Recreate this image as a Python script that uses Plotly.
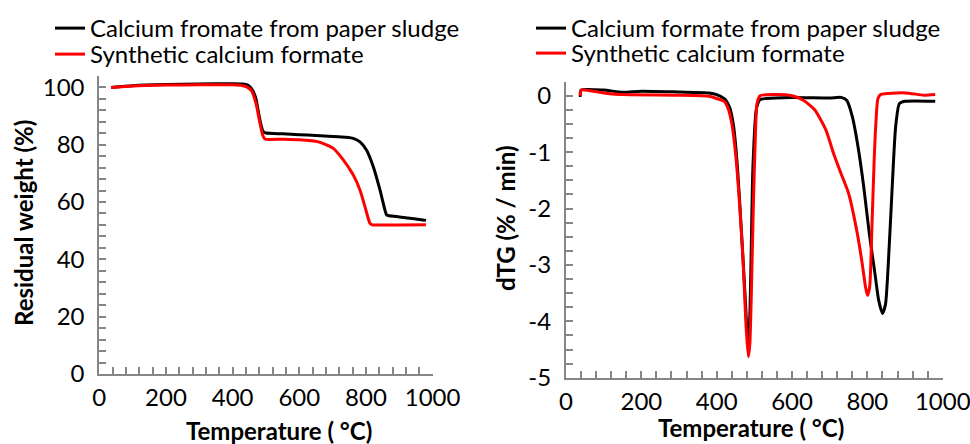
import plotly.graph_objects as go

# ---------------- data ----------------
# TGA (left)
tga_black_T = [35, 100, 200, 300, 400, 430, 445, 455, 462, 470, 478, 485, 490, 495, 500, 550, 600, 650, 700, 740,
               762, 782, 802, 822, 842, 857, 862, 870, 900, 950, 980]
tga_black_W = [100.0, 100.6, 101.0, 101.2, 101.3, 101.2, 100.8, 99.8, 98.5, 96.0, 91.0, 87.0, 85.0, 84.3, 84.1, 83.8,
               83.5, 83.2, 82.9, 82.6, 82.2, 81.0, 78.1, 72.3, 64.2, 57.2, 55.5, 55.2, 54.8, 54.1, 53.6]
tga_red_T = [35, 100, 200, 300, 400, 430, 442, 457, 470, 480, 490, 497, 550, 600, 657, 680, 702, 732, 762, 782, 797,
             812, 820, 850, 900, 980]
tga_red_W = [100.0, 100.5, 100.8, 100.9, 100.9, 100.6, 100.2, 98.8, 94.4, 88.6, 83.4, 82.0, 81.9, 81.7, 81.0, 80.0,
             78.7, 74.7, 69.4, 64.2, 58.4, 52.6, 52.0, 52.0, 52.0, 52.1]

# DTG (right)
dtg_black_T = [38, 40, 100, 150, 200, 300, 380, 400, 420, 435, 445, 455, 465, 475, 480, 484, 488, 492, 496, 505, 515,
               530, 600, 700, 730, 745, 760, 775, 790, 805, 820, 830, 840, 848, 855, 865, 875, 885, 900, 980]
dtg_black_V = [-0.02, 0.1, 0.1, 0.06, 0.08, 0.065, 0.05, 0.02, -0.05, -0.22, -0.55, -1.26, -2.33, -3.5, -4.1, -4.35,
               -3.9, -2.6, -1.3, -0.25, -0.07, -0.05, -0.03, -0.04, -0.03, -0.08, -0.37, -0.9, -1.6, -2.44, -3.15,
               -3.63, -3.86, -3.7, -3.04, -1.73, -0.55, -0.14, -0.1, -0.1]
dtg_red_T = [38, 40, 100, 150, 300, 380, 400, 420, 430, 440, 450, 460, 470, 478, 484, 488, 492, 497, 502, 507, 515,
             550, 600, 630, 660, 690, 710, 730, 750, 770, 785, 795, 800, 806, 812, 818, 822, 828, 835, 900, 950, 980]
dtg_red_V = [0.0, 0.1, 0.05, 0.02, 0.01, -0.01, -0.05, -0.1, -0.22, -0.49, -1.02, -1.85, -2.92, -4.1, -4.63, -4.4,
             -3.5, -2.03, -0.85, -0.14, 0.0, 0.02, 0.0, -0.08, -0.25, -0.61, -1.02, -1.38, -1.73, -2.33, -2.92, -3.39,
             -3.54, -3.39, -2.33, -1.14, -0.55, -0.05, 0.02, 0.05, 0.01, 0.02]

# tick labels
x_ticks = [0, 200, 400, 600, 800, 1000]
tga_ticks = [0, 20, 40, 60, 80, 100]
dtg_ticks = [0, -1, -2, -3, -4, -5]
dtg_ticktext = ["0", "-1", "-2", "-3", "-4", "-5"]

name_left_1 = "Calcium fromate from paper sludge"
name_right_1 = "Calcium formate from paper sludge"
name_2 = "Synthetic calcium formate"

FONT = "Lato"
AX = "#868686"
FS = 24
W, H = 970, 444

fig = go.Figure()
line_kw = dict(width=3, shape="spline", smoothing=0.6)
fig.add_trace(go.Scatter(x=tga_black_T, y=tga_black_W, mode="lines", name=name_left_1,
                         line=dict(color="black", **line_kw), xaxis="x", yaxis="y", legend="legend"))
fig.add_trace(go.Scatter(x=tga_red_T, y=tga_red_W, mode="lines", name=name_2,
                         line=dict(color="red", **line_kw), xaxis="x", yaxis="y", legend="legend2"))
fig.add_trace(go.Scatter(x=dtg_black_T, y=dtg_black_V, mode="lines", name=name_right_1,
                         line=dict(color="black", **line_kw), xaxis="x2", yaxis="y2", legend="legend3"))
fig.add_trace(go.Scatter(x=dtg_red_T, y=dtg_red_V, mode="lines", name=name_2,
                         line=dict(color="red", **line_kw), xaxis="x2", yaxis="y2", legend="legend4"))

tickfont = dict(family=FONT, size=FS, color="black")
minor = dict(ticks="inside", ticklen=7, tickcolor=AX, tickwidth=1.5)
common = dict(showline=True, linecolor=AX, linewidth=2, ticks="inside", ticklen=7, tickcolor=AX, tickwidth=1.5,
              showgrid=False, zeroline=False, tickfont=tickfont, ticklabeloverflow="allow")


def leg(xpx, ypx):
    return dict(x=xpx / W, y=1 - ypx / H, xanchor="left", yanchor="top", bgcolor="rgba(0,0,0,0)",
                font=dict(family=FONT, size=FS, color="black"), itemwidth=30)


fig.update_layout(
    width=W, height=H,
    margin=dict(l=0, r=0, t=0, b=0, autoexpand=False),
    plot_bgcolor="white", paper_bgcolor="white",
    font=dict(family=FONT, size=FS, color="black"),
    xaxis=dict(domain=[0.1024, 0.446], range=[0, 1000], tickvals=x_ticks, anchor="y", ticklabelstandoff=1,
               minor=dict(dtick=40, **minor), **common),
    yaxis=dict(domain=[0.1577, 0.829], range=[0, 104], tickvals=tga_ticks, anchor="x", ticklabelstandoff=8,
               minor=dict(dtick=4, **minor), **common),
    xaxis2=dict(domain=[0.5835, 0.9719], range=[0, 1000], tickvals=x_ticks, anchor="y2", ticklabelstandoff=1,
                minor=dict(dtick=40, **minor), **common),
    yaxis2=dict(domain=[0.1493, 0.8162], range=[-5, 0.25], tickvals=dtg_ticks, ticktext=dtg_ticktext,
                anchor="x2", ticklabelstandoff=8, minor=dict(tick0=0, dtick=0.25, **minor), **common),
    legend=leg(50, 6),
    legend2=leg(50, 32),
    legend3=leg(531, 6),
    legend4=leg(531, 31),
    showlegend=True,
)

title_font = dict(family=FONT, size=FS, color="black", weight="bold")
titles = [
    ("Temperature ( °C)", 279, 430, 0),
    ("Temperature ( °C)", 751, 427, 0),
    ("Residual weight (%)", 23, 223, -90),
    ("dTG (% / min)", 505, 218, -90),
]
for txt, xpx, ypx, ang in titles:
    fig.add_annotation(text=txt, x=xpx / W, y=1 - ypx / H, xref="paper", yref="paper", showarrow=False,
                       font=title_font, textangle=ang, xanchor="center", yanchor="middle")

fig.write_html("out.html")
